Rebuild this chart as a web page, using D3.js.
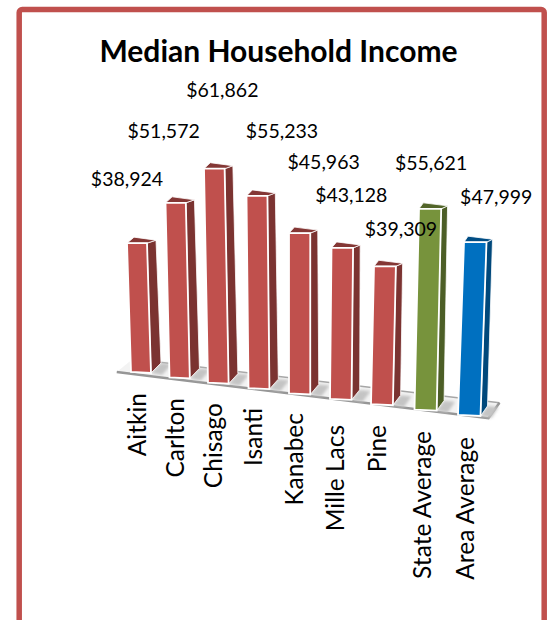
<!DOCTYPE html>
<html>
<head>
<meta charset="utf-8">
<script src="https://cdn.jsdelivr.net/npm/d3@7"></script>
<style>
  html, body { margin: 0; padding: 0; background: #fff; }
  svg { display: block; }
  text { font-family: Lato, "Open Sans", sans-serif; fill: #000; }
</style>
</head>
<body>
<div class="chart"></div>
<script>
// Chart data
var categories = ["Aitkin", "Carlton", "Chisago", "Isanti", "Kanabec", "Mille Lacs", "Pine", "State Average", "Area Average"];
var incomes = [38924, 51572, 61862, 55233, 45963, 43128, 39309, 55621, 47999];
var incomeLabels = ["$38,924", "$51,572", "$61,862", "$55,233", "$45,963", "$43,128", "$39,309", "$55,621", "$47,999"];

// The data labels were moved by hand in the original, so they sit off the bars by these amounts
var labelDx = [-10, -12, 8, 25, 24, 9, 16, 1, 21];
var labelDy = [-64, -72, -79, -65, -71, -53, -37, -46, -45];

var svgWidth = 547;
var svgHeight = 620;

var svg = d3.select(".chart")
  .append("svg")
  .attr("width", svgWidth)
  .attr("height", svgHeight);

var shadowBlur = svg.append("defs")
  .append("filter")
  .attr("id", "soft")
  .attr("x", "-30%").attr("y", "-30%")
  .attr("width", "160%").attr("height", "160%");
shadowBlur.append("feGaussianBlur").attr("stdDeviation", 1.6);

// Outer frame, runs off the bottom of the page
svg.append("rect")
  .attr("x", 19.2)
  .attr("y", 9.5)
  .attr("width", 525)
  .attr("height", 720)
  .attr("rx", 3)
  .attr("fill", "#fff")
  .attr("stroke", "#c0504d")
  .attr("stroke-width", 5.5);

svg.append("text")
  .attr("x", 278.5)
  .attr("y", 62)
  .attr("text-anchor", "middle")
  .attr("font-weight", 700)
  .attr("font-size", 30)
  .text("Median Household Income");

// Perspective scales, everything goes through the category index
var indexes = categories.map((d, i) => i);

var xBase = d3.scaleLinear().domain([0, 2, 4, 6, 8]).range([131, 208, 289, 371, 458]);
var yBase = d3.scaleLinear().domain([0, 8]).range([372, 415]);
var barWidth = d3.scaleLinear().domain([0, 8]).range([20, 22.5]);
var pxPerDollar = d3.scaleLinear().domain([0, 2, 3, 6, 7, 8]).range([0.00331, 0.00346, 0.00348, 0.00351, 0.00361, 0.0036]);
var lean = d3.scaleLinear().domain([0, 2, 4, 8]).range([-4, -4, 0, 6]);
var sideTop = d3.scaleLinear().domain([0, 8]).range([9, 6]);
var sideBottom = d3.scaleLinear().domain([0, 8]).range([10, 7]);

function barCorners(i) {
  var h = incomes[i] * pxPerDollar(i);
  var w = barWidth(i);
  var xb = xBase(i), yb = yBase(i);
  var xt = xb + lean(i), yt = yb - h;
  return {
    fl: [xb, yb], fr: [xb + w, yb + 1],
    tl: [xt, yt], tr: [xt + w, yt],
    btr: [xt + w + sideTop(i), yt - 3],
    btl: [xt + sideTop(i) - 2, yt - 6],
    bbr: [xb + w + sideBottom(i), yb - 9]
  };
}

var path = pts => "M" + pts.map(p => p.join(",")).join("L") + "Z";

// Floor plate
var floorFL = [xBase(-0.37), yBase(-0.2) + 1];
var floorFR = [xBase(8.7), yBase(8.7) - 0.5];
var floorBR = [xBase(8.7) + 11, yBase(8.7) - 16];
var floorBL = [xBase(-0.37) + 16, yBase(-0.2) - 12];

svg.append("path")
  .attr("d", path([floorFL, floorBL, floorBR, floorFR]))
  .attr("fill", "#f3f3f3");

svg.append("line")
  .attr("x1", floorBL[0]).attr("y1", floorBL[1])
  .attr("x2", floorBR[0]).attr("y2", floorBR[1])
  .attr("stroke", "#a6a6a6")
  .attr("stroke-width", 1.5);

svg.append("path")
  .attr("d", "M" + floorFL + "L" + floorFR + "L" + floorBR)
  .attr("fill", "none")
  .attr("stroke", "#969696")
  .attr("stroke-width", 2.5);

// Colours per bar
var colorFront = d3.scaleOrdinal().domain(categories).range(categories.map(d =>
  d == "State Average" ? "#77933c" : d == "Area Average" ? "#0070c0" : "#c0504d"));
var darker = (c, k) => d3.rgb(c).darker(k).formatHex();

// Soft shadow each bar leaves on the floor
svg.selectAll(".shadow")
  .data(indexes)
  .enter()
  .append("path")
  .attr("class", "shadow")
  .attr("d", i => {
    var c = barCorners(i);
    return path([c.fr, c.bbr, [c.bbr[0] + 11, c.bbr[1] + 1], [c.fr[0] + 11, c.fr[1] + 2]]);
  })
  .attr("fill", "#c4c4c4")
  .attr("filter", "url(#soft)");

var bars = svg.selectAll(".bar")
  .data(indexes)
  .enter()
  .append("g")
  .attr("class", "bar");

bars.append("path")
  .attr("d", i => { var c = barCorners(i); return path([c.fr, c.tr, c.btr, c.bbr]); })
  .attr("fill", i => darker(colorFront(categories[i]), 1.25))
  .attr("stroke", "#fff")
  .attr("stroke-width", 0.8);

bars.append("path")
  .attr("d", i => { var c = barCorners(i); return path([c.tl, c.btl, c.btr, c.tr]); })
  .attr("fill", i => darker(colorFront(categories[i]), 1.05))
  .attr("stroke", "#fff")
  .attr("stroke-width", 0.8);

bars.append("path")
  .attr("d", i => { var c = barCorners(i); return path([c.fl, c.tl, c.tr, c.fr]); })
  .attr("fill", i => colorFront(categories[i]))
  .attr("stroke", "#fff")
  .attr("stroke-width", 1.8);

// Value labels
svg.selectAll(".value")
  .data(indexes)
  .enter()
  .append("text")
  .attr("class", "value")
  .attr("x", i => { var c = barCorners(i); return (c.tl[0] + c.tr[0]) / 2 + labelDx[i]; })
  .attr("y", i => barCorners(i).tl[1] + labelDy[i])
  .attr("dy", "0.35em")
  .attr("text-anchor", "middle")
  .attr("font-size", 19.5)
  .text(i => incomeLabels[i]);

// Category labels, rotated and hanging under the floor
var xLabel = d3.scaleLinear().domain([0, 2, 4, 6, 7, 8]).range([137, 213, 294, 377, 422, 465]);
var yLabel = d3.scaleLinear().domain([0, 4, 5, 6, 8]).range([393, 413, 425, 425, 437]);

svg.selectAll(".cat")
  .data(indexes)
  .enter()
  .append("text")
  .attr("class", "cat")
  .attr("transform", i => `translate(${xLabel(i)}, ${yLabel(i)}) rotate(-90)`)
  .attr("dy", "0.35em")
  .attr("text-anchor", "end")
  .attr("font-size", 24.5)
  .text(i => categories[i]);
</script>
</body>
</html>
